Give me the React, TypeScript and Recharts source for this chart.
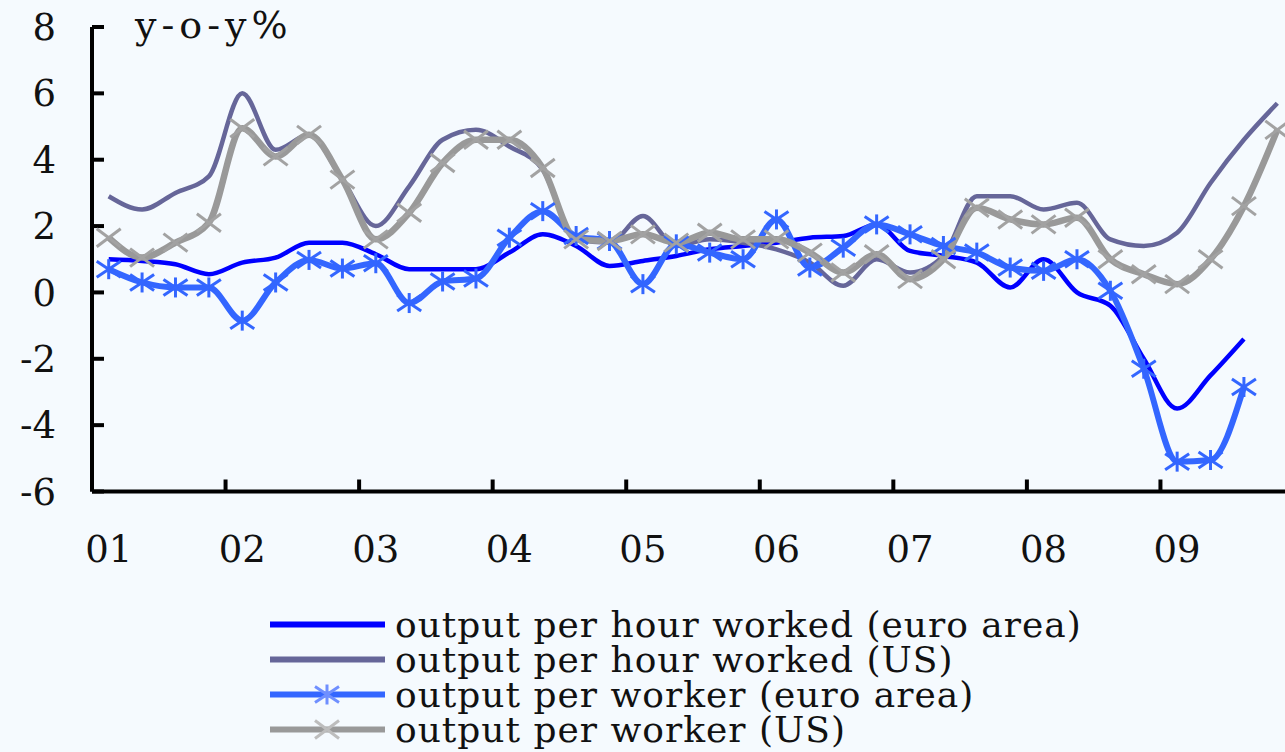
import React from "react";
import { LineChart, Line, XAxis, YAxis, Legend } from "recharts";

// quarterly, 2001Q1 .. 2009Q4
const YEAR_LABELS = ["01", "02", "03", "04", "05", "06", "07", "08", "09"];
const Y_TICKS = [-6, -4, -2, 0, 2, 4, 6, 8];

const HOUR_EA = [
  1.0, 0.95, 0.85, 0.55, 0.9, 1.05, 1.5, 1.5, 1.15, 0.7, 0.7, 0.7, 1.2, 1.75, 1.4, 0.8, 0.95, 1.1,
  1.3, 1.4, 1.5, 1.65, 1.7, 2.05, 1.25, 1.1, 0.9, 0.15, 1.0, 0.0, -0.4, -2.0, -3.5, -2.5, -1.4,
];
const HOUR_US = [
  2.9, 2.5, 3.0, 3.5, 6.0, 4.3, 4.75, 3.4, 2.0, 3.2, 4.6, 4.9, 4.4, 3.7, 1.6, 1.5, 2.3, 1.4, 1.6,
  1.5, 1.3, 0.9, 0.2, 1.0, 0.6, 1.1, 2.9, 2.9, 2.5, 2.7, 1.6, 1.4, 1.8, 3.3, 4.6, 5.7,
];
const WORKER_EA = [
  0.7, 0.3, 0.15, 0.15, -0.85, 0.3, 0.98, 0.72, 0.88, -0.32, 0.33, 0.42, 1.65, 2.45, 1.7, 1.55,
  0.25, 1.45, 1.2, 1.0, 2.2, 0.75, 1.35, 2.05, 1.75, 1.4, 1.2, 0.75, 0.65, 1.0, 0.05, -2.3, -5.1,
  -5.05, -2.85,
];
const WORKER_US = [
  1.65, 1.05, 1.5, 2.1, 4.95, 4.1, 4.75, 3.4, 1.6, 2.4, 3.9, 4.6, 4.6, 3.75, 1.6, 1.55, 1.75, 1.5,
  1.8, 1.6, 1.6, 1.2, 0.6, 1.15, 0.4, 1.0, 2.55, 2.2, 2.05, 2.25, 1.0, 0.55, 0.25, 1.0, 2.6, 4.9,
];

const SERIES = [
  { key: "hourEA", name: "output per hour worked (euro area)", color: "#0000ff", width: 4.5, marker: "" },
  { key: "hourUS", name: "output per hour worked (US)", color: "#666699", width: 4.5, marker: "" },
  { key: "workerEA", name: "output per worker (euro area)", color: "#3366ff", width: 6, marker: "star" },
  { key: "workerUS", name: "output per worker (US)", color: "#999999", width: 6.5, marker: "x" },
];

const N = HOUR_US.length;
const data = HOUR_US.map((_, i) => ({
  i,
  hourEA: HOUR_EA[i],
  hourUS: HOUR_US[i],
  workerEA: WORKER_EA[i],
  workerUS: WORKER_US[i],
}));

const yearBounds = YEAR_LABELS.map((_, k) => k * 4 - 0.5).concat([N - 0.5]);
const yearStarts = YEAR_LABELS.map((_, k) => k * 4);

const FONT = "'DejaVu Serif', serif";
const BG = "#f5fafe";

function StarMark({ cx, cy, color }: { cx: number; cy: number; color: string }) {
  return (
    <g stroke={color} strokeWidth={3}>
      <line x1={cx} y1={cy - 10} x2={cx} y2={cy + 10} />
      <line x1={cx - 12} y1={cy - 8} x2={cx + 12} y2={cy + 8} />
      <line x1={cx - 12} y1={cy + 8} x2={cx + 12} y2={cy - 8} />
    </g>
  );
}

function CrossMark({ cx, cy, color }: { cx: number; cy: number; color: string }) {
  return (
    <g stroke={color} strokeWidth={3}>
      <line x1={cx - 12} y1={cy - 9} x2={cx + 12} y2={cy + 9} />
      <line x1={cx - 12} y1={cy + 9} x2={cx + 12} y2={cy - 9} />
    </g>
  );
}

const starDot = (p: any) =>
  p.value == null || p.cx == null ? <g key={p.index} /> : <StarMark key={p.index} cx={p.cx} cy={p.cy} color="#3366ff" />;
const crossDot = (p: any) =>
  p.value == null || p.cx == null ? <g key={p.index} /> : <CrossMark key={p.index} cx={p.cx} cy={p.cy} color="#a2a2a2" />;

function LegendBox() {
  return (
    <div style={{ fontFamily: FONT, fontSize: 36, letterSpacing: 1, color: "#111" }}>
      {SERIES.map((s) => (
        <div key={s.key} style={{ display: "flex", alignItems: "center", height: 35, whiteSpace: "nowrap" }}>
          <svg width={125} height={35} style={{ flex: "none" }}>
            <line x1={0} x2={115} y1={17.5} y2={17.5} stroke={s.color} strokeWidth={6} />
            {s.marker === "star" && <StarMark cx={57} cy={17.5} color="#6f8fff" />}
            {s.marker === "x" && <CrossMark cx={57} cy={17.5} color="#bdbdbd" />}
          </svg>
          <span style={{ lineHeight: "35px" }}>{s.name}</span>
        </div>
      ))}
    </div>
  );
}

const titleLabel = (p: any) => {
  const vb = p.viewBox || { x: 0, y: 27, width: 92 };
  return (
    <text x={vb.x + vb.width + 43} y={vb.y + 11} fontSize={38} fontFamily={FONT} fill="#111" letterSpacing={5}>
      y-o-y%
    </text>
  );
};

export default function App() {
  return (
    <div style={{ position: "absolute", left: 0, top: 0, width: 1285, height: 752, overflow: "hidden", background: BG }}>
      <LineChart width={1300} height={752} data={data} margin={{ top: 27, right: 6, bottom: 5, left: 0 }}>
        <XAxis
          dataKey="i"
          type="number"
          domain={[-0.5, N - 0.5]}
          ticks={yearBounds}
          tickFormatter={() => ""}
          tickSize={-12}
          height={10}
          interval={0}
          axisLine={{ stroke: "#000", strokeWidth: 4 }}
          tickLine={{ stroke: "#000", strokeWidth: 4 }}
        />
        <XAxis
          xAxisId="lbl"
          dataKey="i"
          type="number"
          domain={[-0.5, N - 0.5]}
          ticks={yearStarts}
          tickFormatter={(v) => YEAR_LABELS[Math.round(v / 4)] ?? ""}
          height={105.5}
          axisLine={false}
          tickLine={false}
          tickSize={0}
          tickMargin={34}
          tick={{ fontSize: 37, fontFamily: FONT, fill: "#111" }}
          interval={0}
        />
        <YAxis
          type="number"
          domain={[-6, 8]}
          ticks={Y_TICKS}
          width={92}
          interval={0}
          tickSize={-12}
          tickMargin={48}
          axisLine={{ stroke: "#000", strokeWidth: 4 }}
          tickLine={{ stroke: "#000", strokeWidth: 4 }}
          tick={{ fontSize: 37, fontFamily: FONT, fill: "#111" }}
          label={{ content: titleLabel }}
        />
        <Legend
          layout="horizontal"
          verticalAlign="bottom"
          align="left"
          content={() => <LegendBox />}
          wrapperStyle={{ left: 270, width: 1000 }}
        />
        {SERIES.map((s) => (
          <Line
            key={s.key}
            dataKey={s.key}
            name={s.name}
            type="monotone"
            stroke={s.color}
            strokeWidth={s.width}
            dot={s.marker === "star" ? starDot : s.marker === "x" ? crossDot : false}
            activeDot={false}
            isAnimationActive={false}
          />
        ))}
      </LineChart>
    </div>
  );
}
